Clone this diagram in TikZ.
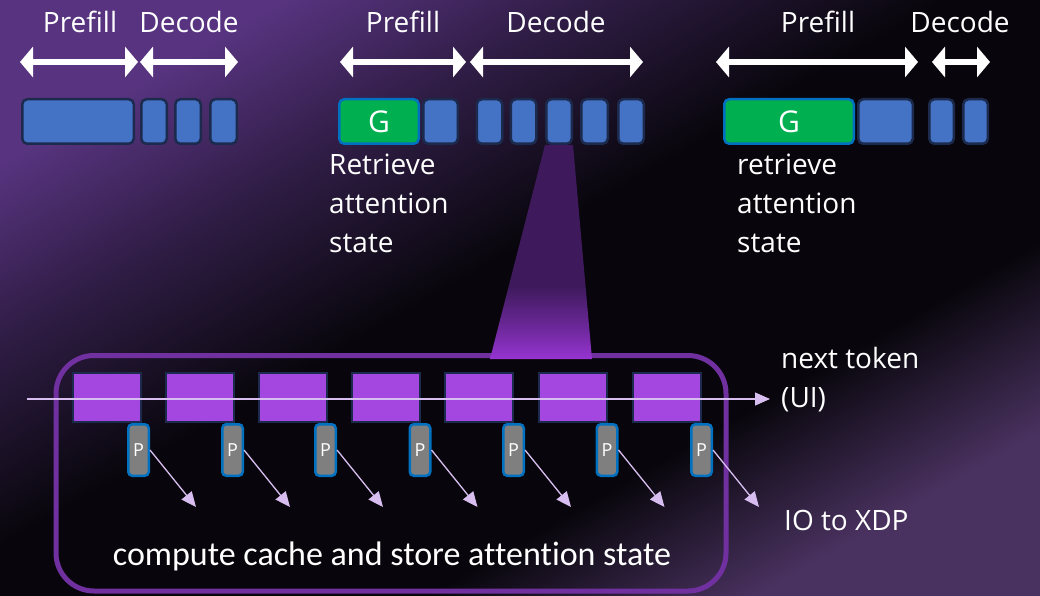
\documentclass[tikz,border=0pt]{standalone}
\usepackage{xcolor}
\usepackage{fontspec}
\setmainfont{Open Sans}
\newfontfamily\narrowfont[Ligatures=NoCommon]{Carlito}
\usepackage{tikz}
\usetikzlibrary{calc}
\usetikzlibrary{arrows}
\usetikzlibrary{arrows.meta}
\usetikzlibrary{shapes}
\usetikzlibrary{positioning}
\definecolor{bgTL}{RGB}{88,52,128}
\definecolor{bgMid}{RGB}{8,6,12}
\definecolor{bgBR}{RGB}{74,50,96}
\definecolor{tokBlue}{RGB}{68,114,196}
\definecolor{tokEdge}{RGB}{28,42,78}
\definecolor{ragGreen}{RGB}{0,176,80}
\definecolor{ragEdge}{RGB}{0,112,192}
\definecolor{attnPurple}{RGB}{163,71,224}
\definecolor{boxPurple}{RGB}{112,48,160}
\definecolor{procGray}{RGB}{127,127,127}
\definecolor{flowLilac}{RGB}{216,190,240}
\definecolor{fanTop}{RGB}{62,26,92}
\definecolor{fanBot}{RGB}{150,52,210}
\pgfdeclarehorizontalshading{backdrop}{100bp}{color(0bp)=(bgTL); color(25bp)=(bgTL); color(35bp)=(bgTL!50!bgMid); color(47bp)=(bgMid); color(64bp)=(bgMid); color(75bp)=(bgBR); color(100bp)=(bgBR)}
\pgfdeclareverticalshading{fan}{100bp}{color(0bp)=(fanBot); color(25bp)=(fanBot); color(32bp)=(fanBot!55!fanTop); color(42bp)=(fanTop); color(100bp)=(fanTop)}
\tikzset{>=latex}
\tikzstyle{lbl} = [draw=none, inner sep = 0, text=white, font=\fontsize{28}{39}\selectfont]
\tikzstyle{tok} = [draw=tokEdge, fill=tokBlue, line width=2.5pt, rounded corners=5pt, minimum height=44.5pt, inner sep = 0]
\tikzstyle{rag} = [tok, draw=ragEdge, fill=ragGreen, text=white, font=\fontsize{30}{36}\selectfont]
\tikzstyle{phase} = [{Triangle[width=30pt, length=13pt]}-{Triangle[width=30pt, length=13pt]}, draw=white, line width=6pt]
\tikzstyle{attn} = [draw=tokEdge, fill=attnPurple, line width=2pt, minimum width=68pt, minimum height=49pt, inner sep = 0]
\tikzstyle{proc} = [draw=ragEdge, fill=procGray, line width=2.5pt, rounded corners=4pt, minimum width=20.5pt, minimum height=51.5pt, inner sep = 0, text=white, font=\fontsize{18}{20}\selectfont]
\tikzstyle{io} = [-{Triangle[width=13pt, length=15pt]}, draw=flowLilac, fill=flowLilac, line width=1.3pt]

\begin{document}
\begin{tikzpicture}[x=1pt, y=-1pt]
\useasboundingbox (0, 0) rectangle (1040, 596);
\shade [shading=backdrop, shading angle=-60] (0, 0) rectangle (1040, 596);

% first request
\node [lbl, anchor=base] (preLbl1) at (80, 33) {Prefill};
\node [lbl, anchor=base] (decLbl1) at (189, 33) {Decode};
\coordinate (preA1) at (20, 62);
\coordinate (preB1) at (138, 62);
\coordinate (decA1) at (140, 62);
\coordinate (decB1) at (238, 62);
\draw [phase] (preA1) -- (preB1);
\draw [phase] (decA1) -- (decB1);
\node [tok, minimum width=111.5pt] (pre1) at (78, 121.5) {};
\node [tok, minimum width=25.5pt] (dec1a) at (154, 121.5) {};
\node [tok, minimum width=25.5pt] (dec1b) at (188, 121.5) {};
\node [tok, minimum width=26.5pt] (dec1c) at (223.5, 121.5) {};

% second request
\node [lbl, anchor=base] (preLbl2) at (403, 33) {Prefill};
\node [lbl, anchor=base] (decLbl2) at (556, 33) {Decode};
\coordinate (preA2) at (340, 62);
\coordinate (preB2) at (466, 62);
\coordinate (decA2) at (470, 62);
\coordinate (decB2) at (643, 62);
\draw [phase] (preA2) -- (preB2);
\draw [phase] (decA2) -- (decB2);
\node [rag, minimum width=79.5pt] (get2) at (379, 121.5) {G};
\node [tok, minimum width=34.5pt] (pre2) at (440.5, 121.5) {};
\node [tok, minimum width=25.5pt] (dec2a) at (489.5, 121.5) {};
\node [tok, minimum width=25.5pt] (dec2b) at (523.5, 121.5) {};
\node [tok, minimum width=25.5pt] (dec2c) at (559, 121.5) {};
\node [tok, minimum width=26.5pt] (dec2d) at (594.5, 121.5) {};
\node [tok, minimum width=25.5pt] (dec2e) at (631, 121.5) {};
\node [lbl, align=left, anchor=north west] (getNote2) at (329, 154) {Retrieve\\attention\\state};

% third request
\node [lbl, anchor=base] (preLbl3) at (818, 33) {Prefill};
\node [lbl, anchor=base] (decLbl3) at (960, 33) {Decode};
\coordinate (preA3) at (716, 62);
\coordinate (preB3) at (918, 62);
\coordinate (decA3) at (932, 62);
\coordinate (decB3) at (990, 62);
\draw [phase] (preA3) -- (preB3);
\draw [phase] (decA3) -- (decB3);
\node [rag, minimum width=129.5pt] (get3) at (789, 121.5) {G};
\node [tok, minimum width=54.5pt] (pre3) at (885.5, 121.5) {};
\node [tok, minimum width=24.5pt] (dec3a) at (941.5, 121.5) {};
\node [tok, minimum width=24.5pt] (dec3b) at (975.5, 121.5) {};
\node [lbl, align=left, anchor=north west] (getNote3) at (737, 154) {retrieve\\attention\\state};

% zoom into one decode step
\draw [draw=boxPurple, line width=5pt, rounded corners=38pt] (56, 355.5) rectangle (726, 591);
\shade [shading=fan] (dec2c.south west) -- (dec2c.south east) -- (592, 359) -- (490, 359) -- cycle;

\node [attn] (attn1) at (107, 397.5) {};
\node [attn] (attn2) at (199.5, 397.5) {};
\node [attn] (attn3) at (292.5, 397.5) {};
\node [attn] (attn4) at (386, 397.5) {};
\node [attn] (attn5) at (479, 397.5) {};
\node [attn] (attn6) at (572.5, 397.5) {};
\node [attn] (attn7) at (666.5, 397.5) {};

\coordinate (ctxIn) at (27, 399);
\coordinate (ctxOut) at (770, 399);
\draw [io, line width=1.2pt] (ctxIn) -- (ctxOut);

\node [proc] (prc1) at (138.5, 450) {P};
\node [proc] (prc2) at (232.5, 450) {P};
\node [proc] (prc3) at (325.5, 450) {P};
\node [proc] (prc4) at (420, 450) {P};
\node [proc] (prc5) at (513.5, 450) {P};
\node [proc] (prc6) at (607, 450) {P};
\node [proc] (prc7) at (701.5, 450) {P};

\coordinate (io1) at (196, 507);
\coordinate (io2) at (290, 507);
\coordinate (io3) at (383, 507);
\coordinate (io4) at (477.5, 507);
\coordinate (io5) at (571, 507);
\coordinate (io6) at (664.5, 507);
\coordinate (io7) at (759, 507);
\draw [io] (prc1.east) -- (io1);
\draw [io] (prc2.east) -- (io2);
\draw [io] (prc3.east) -- (io3);
\draw [io] (prc4.east) -- (io4);
\draw [io] (prc5.east) -- (io5);
\draw [io] (prc6.east) -- (io6);
\draw [io] (prc7.east) -- (io7);

\node [lbl, align=left, anchor=north west] (nextNote) at (781, 347) {next token\\(UI)};
\node [lbl, anchor=base west] (ioNote) at (784, 530) {IO to XDP};
\node [lbl, anchor=base, font=\narrowfont\fontsize{34}{40}\selectfont] (boxNote) at (392, 565) {compute cache and store attention state};
\end{tikzpicture}
\end{document}
